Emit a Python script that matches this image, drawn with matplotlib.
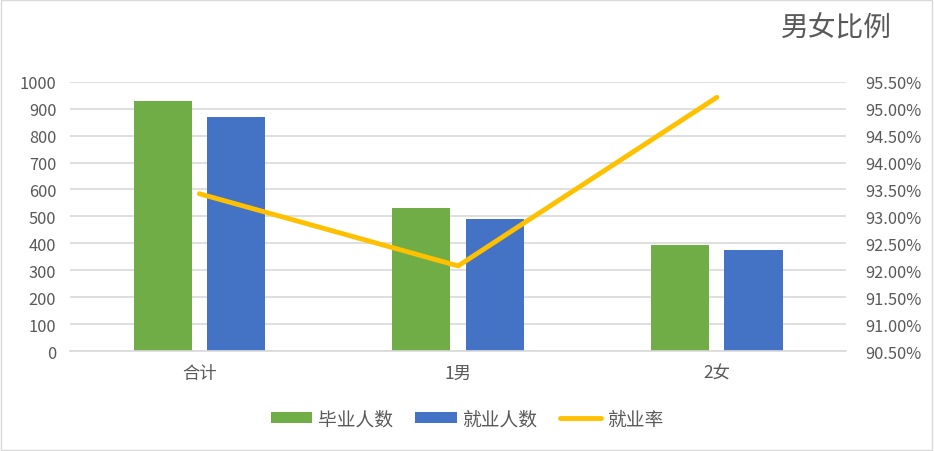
import numpy as np
import matplotlib.pyplot as plt
from matplotlib.lines import Line2D
from matplotlib.patches import Patch, Rectangle
from matplotlib.ticker import MultipleLocator, FuncFormatter

plt.rcParams['font.family'] = ['Noto Sans CJK SC', 'DejaVu Sans']

categories = ["合计", "1男", "2女"]
graduates = [928, 530, 393]
employed = [869, 490, 374]
employmentRate = [93.42, 92.08, 95.21]

textColor = "#595959"
gridColor = "#d9d9d9"

fig = plt.figure(figsize=(9.34, 4.52), dpi=100)
ax = fig.add_axes([0.075, 0.2212, 0.831, 0.5958])
ax2 = ax.twinx()

x = np.arange(len(categories))
barWidth = 0.225
ax.bar(x - 0.142, graduates, width=barWidth, color="#70ad47", zorder=2)
ax.bar(x + 0.142, employed, width=barWidth, color="#4472c4", zorder=2)
ax2.plot(x, employmentRate, color="#ffc000", linewidth=3.5, solid_capstyle="round", zorder=3)

ax.set_xlim(-0.5, 2.5)
ax.set_ylim(0, 1000)
ax.yaxis.set_major_locator(MultipleLocator(100))
ax.grid(axis="y", color=gridColor, linewidth=1.2, zorder=0)
ax.set_axisbelow(True)
ax.set_xticks(x)
ax.set_xticklabels(categories)

ax2.set_ylim(90.5, 95.5)
ax2.yaxis.set_major_locator(MultipleLocator(0.5))
ax2.yaxis.set_major_formatter(FuncFormatter(lambda v, p: "%.2f%%" % v))

for a in (ax, ax2):
    for s in a.spines.values():
        s.set_visible(False)
    a.tick_params(length=0, labelsize=11.8, colors=textColor)
ax.spines["bottom"].set_visible(True)
ax.spines["bottom"].set_color(gridColor)
ax.spines["bottom"].set_linewidth(1.2)
ax.tick_params(axis="x", pad=9, labelsize=12.5)
ax.tick_params(axis="y", pad=10)
ax2.tick_params(axis="y", pad=14)

fig.text(0.895, 0.938, "男女比例", fontsize=20, color=textColor, ha="center", va="center")

legendItems = [
    Patch(facecolor="#70ad47", label="毕业人数"),
    Patch(facecolor="#4472c4", label="就业人数"),
    Line2D([0], [0], color="#ffc000", linewidth=3.5, solid_capstyle="round", label="就业率"),
]
fig.legend(handles=legendItems, loc="center", bbox_to_anchor=(0.5, 0.071), ncol=3,
           frameon=False, fontsize=13.5, labelcolor=textColor, handlelength=2.2,
           handleheight=0.55, handletextpad=0.3, columnspacing=1.2)

fig.patches.append(Rectangle((0.001, 0.002), 0.997, 0.996, transform=fig.transFigure,
                             fill=False, edgecolor=gridColor, linewidth=1))

plt.savefig("out.png", dpi=100)
